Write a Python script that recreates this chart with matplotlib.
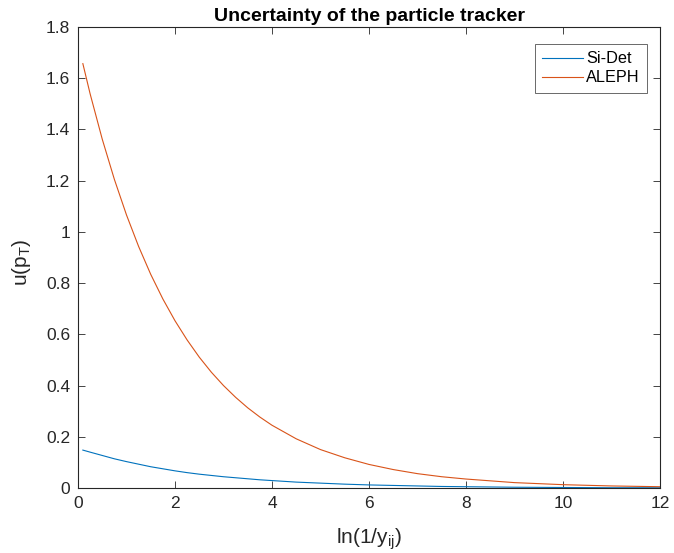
import matplotlib
matplotlib.use('Agg')
import matplotlib.pyplot as plt

# Values
x_vals = [0.1, 0.25, 0.5, 0.75, 1.0, 1.25, 1.5, 1.75, 2.0, 2.25, 2.5, 2.75, 3.0,
          3.25, 3.5, 3.75, 4.0, 4.5, 5.0, 5.5, 6.0, 6.5, 7.0, 7.5, 8.0, 9.0,
          10.0, 11.0, 12.0]
aleph = [1.657, 1.539, 1.362, 1.205, 1.066, 0.943, 0.834, 0.738, 0.653, 0.578,
         0.511, 0.452, 0.400, 0.354, 0.313, 0.277, 0.245, 0.192, 0.150, 0.118,
         0.092, 0.072, 0.056, 0.044, 0.035, 0.021, 0.013, 0.008, 0.005]
si_det = [0.148, 0.140, 0.127, 0.114, 0.103, 0.093, 0.083, 0.075, 0.067, 0.060,
          0.054, 0.049, 0.044, 0.040, 0.036, 0.032, 0.029, 0.023, 0.019, 0.015,
          0.012, 0.010, 0.008, 0.006, 0.005, 0.003, 0.002, 0.001, 0.001]

plt.rcParams['font.family'] = ['Liberation Sans', 'DejaVu Sans']
plt.rcParams['mathtext.fontset'] = 'custom'
plt.rcParams['mathtext.rm'] = 'Liberation Sans'

fig = plt.figure(figsize=(6.74, 5.53), dpi=100)
# axes box: x 78..660 px, y 27..488 px
ax = fig.add_axes([78 / 674, 65 / 553, 582 / 674, 461 / 553])

ax.plot(x_vals, si_det, color='#0072BD', lw=0.8, label='Si-Det')
ax.plot(x_vals, aleph, color='#D95319', lw=0.8, label='ALEPH')

ax.set_xlim(0, 12)
ax.set_ylim(0, 1.8)
ax.set_xticks(range(0, 13, 2))
ax.set_yticks([0, 0.2, 0.4, 0.6, 0.8, 1.0, 1.2, 1.4, 1.6, 1.8])
ax.set_yticklabels(['0', '0.2', '0.4', '0.6', '0.8', '1', '1.2', '1.4', '1.6', '1.8'])

ax.tick_params(direction='in', top=True, right=True, labelsize=12.5,
               colors='#262626', length=5, width=0.6)
ax.tick_params(axis='y', pad=5.5)
ax.tick_params(axis='x', pad=6)
for s in ax.spines.values():
    s.set_color('#262626')
    s.set_linewidth(0.8)

ax.set_title('Uncertainty of the particle tracker', fontsize=14,
             fontweight='bold', pad=4)
ax.set_xlabel(r'ln(1/y$_{\mathregular{ij}}$)', fontsize=15, color='#262626')
ax.set_ylabel(r'u(p$_{\mathregular{T}}$)', fontsize=15, color='#262626')
ax.xaxis.set_label_coords(0.5, -0.082)
ax.yaxis.set_label_coords(-0.077, 0.49)

leg = ax.legend(loc='upper right', bbox_to_anchor=(1 - 13 / 582, 1 - 17 / 461),
                borderaxespad=0, fontsize=11.7, frameon=True, fancybox=False,
                edgecolor='#262626', handlelength=2.5, handletextpad=0.2,
                borderpad=0.45, labelspacing=0.25)
leg.get_frame().set_linewidth(0.6)

fig.savefig('out.png', dpi=100)
